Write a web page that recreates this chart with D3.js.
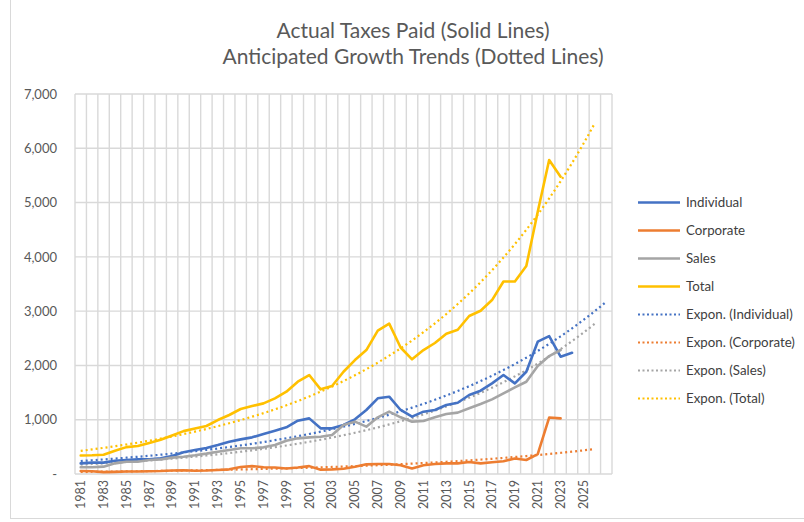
<!DOCTYPE html>
<html>
<head>
<meta charset="utf-8">
<script src="https://cdn.jsdelivr.net/npm/d3@7"></script>
<style>
  html, body { margin: 0; padding: 0; background: #fff; }
  svg { display: block; font-family: Lato, "Open Sans", sans-serif; }
</style>
</head>
<body>
<svg id="chart" width="804" height="522"></svg>
<script>
// ---------- data ----------
const years = d3.range(1981, 2025);          // 1981..2024 actual data years
const axisYears = d3.range(1981, 2028);      // category axis extends for trend forecast
const labelYears = d3.range(1981, 2026, 2);  // labelled categories
const yTicks = [0, 1000, 2000, 3000, 4000, 5000, 6000, 7000];

const individual = [196, 209, 209, 245, 258, 270, 272, 289, 331, 400, 442, 480, 534, 595, 638, 675, 737, 798, 859, 982,
  1025, 841, 841, 902, 1007, 1179, 1394, 1424, 1179, 1056, 1148, 1179, 1271, 1313, 1455, 1535, 1670, 1823, 1670, 1884,
  2437, 2541, 2161, 2234];
const corporate = [55, 50, 35, 40, 45, 45, 50, 55, 65, 70, 60, 65, 75, 86, 130, 145, 125, 120, 100, 120,
  145, 80, 85, 98, 135, 178, 184, 184, 160, 100, 160, 184, 196, 196, 220, 196, 215, 235, 285, 258,
  365, 1040, 1025];
const sales = [123, 123, 135, 196, 227, 227, 258, 270, 301, 319, 344, 375, 411, 442, 473, 473, 491, 534, 614, 657,
  675, 687, 718, 902, 964, 872, 1044, 1148, 1044, 964, 976, 1044, 1105, 1130, 1210, 1289, 1375, 1486, 1596, 1700,
  1989, 2173, 2284];
const total = [340, 345, 355, 430, 495, 515, 570, 630, 710, 790, 840, 884, 994, 1087, 1197, 1252, 1301, 1394, 1516, 1700,
  1823, 1560, 1620, 1884, 2099, 2283, 2640, 2770, 2330, 2112, 2283, 2413, 2585, 2658, 2910, 3008, 3204, 3545, 3545, 3831,
  4831, 5783, 5476];

const seriesNames = ["Individual", "Corporate", "Sales", "Total"];
const seriesValues = [individual, corporate, sales, total];
const seriesColors = ["#4472C4", "#ED7D31", "#A5A5A5", "#FFC000"];
const forecastForward = 3;

const titleLines = ["Actual Taxes Paid (Solid Lines)", "Anticipated Growth Trends (Dotted Lines)"];

// ---------- layout ----------
const svg = d3.select("#chart");
const plot = { left: 75, right: 612, top: 94, bottom: 474 };

const x = d3.scaleBand().domain(axisYears).range([plot.left, plot.right]).padding(0);
const cx = yr => x(yr) + x.bandwidth() / 2;
const y = d3.scaleLinear().domain([0, 7000]).range([plot.bottom, plot.top]);

// chart border
svg.append("rect").attr("x", 10.5).attr("y", -2).attr("width", 800).attr("height", 520.5)
  .attr("fill", "none").attr("stroke", "#d9d9d9").attr("stroke-width", 1);

// title
svg.append("g").selectAll("text").data(titleLines).join("text")
  .attr("x", 413).attr("y", (d, i) => 38 + i * 26)
  .attr("text-anchor", "middle").attr("font-size", 21).attr("fill", "#595959")
  .text(d => d);

// gridlines
const grid = svg.append("g").attr("stroke", "#d9d9d9").attr("stroke-width", 1.4);
grid.selectAll("line.h").data(yTicks).join("line").attr("class", "h")
  .attr("x1", plot.left).attr("x2", plot.right).attr("y1", d => y(d)).attr("y2", d => y(d));
const vEdges = axisYears.map(d => x(d)).concat([plot.right]);
grid.selectAll("line.v").data(vEdges).join("line").attr("class", "v")
  .attr("x1", d => d).attr("x2", d => d).attr("y1", plot.top).attr("y2", plot.bottom);

// y axis
const yAxis = svg.append("g").attr("transform", `translate(${plot.left},0)`)
  .call(d3.axisLeft(y).tickValues(yTicks).tickSize(0).tickPadding(18)
    .tickFormat(d => d === 0 ? "-" : d3.format(",")(d)));
yAxis.select(".domain").remove();
yAxis.selectAll("text").attr("font-size", 13).attr("fill", "#595959").attr("font-family", "Lato, sans-serif");

// x axis
const xAxis = svg.append("g").attr("transform", `translate(0,${plot.bottom})`)
  .call(d3.axisBottom(x).tickValues(labelYears).tickSize(0));
xAxis.select(".domain").remove();
xAxis.selectAll("text")
  .attr("transform", "rotate(-90)").attr("x", -6).attr("y", 0).attr("dy", "0.35em")
  .style("text-anchor", "end").attr("font-size", 12.5).attr("fill", "#595959")
  .attr("font-family", "Lato, sans-serif");

// exponential trend (least squares on ln y, x = 1..n, as Excel)
function expTrend(vals) {
  const xs = vals.map((v, i) => i + 1);
  const ls = vals.map(v => Math.log(v));
  const mx = d3.mean(xs), ml = d3.mean(ls);
  const b = d3.sum(xs, (xx, i) => (xx - mx) * (ls[i] - ml)) / d3.sum(xs, xx => (xx - mx) * (xx - mx));
  const a = ml - b * mx;
  const n = vals.length + forecastForward;
  return d3.range(n).map(i => ({ yr: axisYears[i], v: Math.exp(a + b * (i + 1)) }));
}

const line = d3.line().x(d => cx(d.yr)).y(d => y(d.v));
const lines = svg.append("g").attr("fill", "none");

// dotted trends first
seriesValues.forEach((vals, k) => {
  lines.append("path").datum(expTrend(vals))
    .attr("d", line.curve(d3.curveMonotoneX))
    .attr("stroke", seriesColors[k]).attr("stroke-width", 2.2)
    .attr("stroke-dasharray", "2 3").attr("stroke-linecap", "butt");
});
// solid actuals
seriesValues.forEach((vals, k) => {
  lines.append("path").datum(vals.map((v, i) => ({ yr: years[i], v })))
    .attr("d", line.curve(d3.curveLinear))
    .attr("stroke", seriesColors[k]).attr("stroke-width", 2.6)
    .attr("stroke-linejoin", "round").attr("stroke-linecap", "round");
});

// legend
const legendItems = seriesNames.map((n, i) => ({ name: n, color: seriesColors[i], dotted: false }))
  .concat(seriesNames.map((n, i) => ({ name: `Expon. (${n})`, color: seriesColors[i], dotted: true })));
const lg = svg.append("g");
const rows = lg.selectAll("g").data(legendItems).join("g")
  .attr("transform", (d, i) => `translate(638,${202.5 + i * 28})`);
rows.append("line").attr("x1", 0).attr("x2", 42).attr("y1", 0).attr("y2", 0)
  .attr("stroke", d => d.color).attr("stroke-width", d => d.dotted ? 2 : 2.6)
  .attr("stroke-dasharray", d => d.dotted ? "2 2.5" : null);
rows.append("text").attr("x", 48).attr("y", 0).attr("dy", "0.35em")
  .attr("font-size", 13.3).attr("fill", "#404040").text(d => d.name);
</script>
</body>
</html>
